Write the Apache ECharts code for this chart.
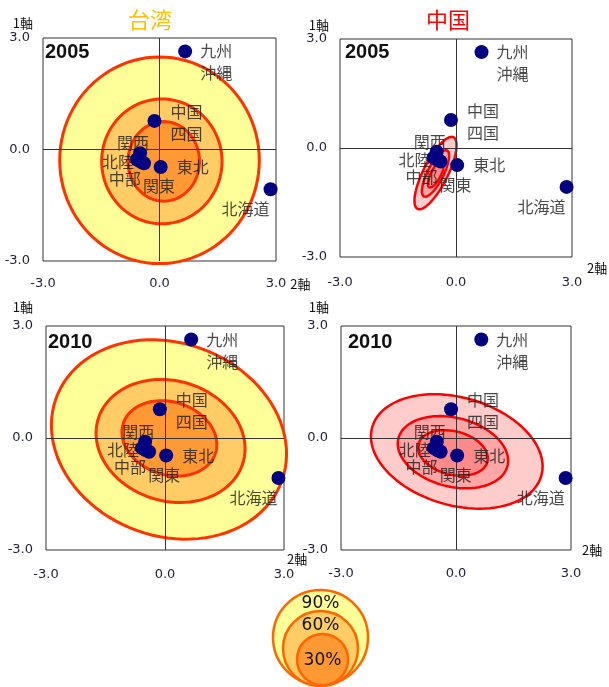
<!DOCTYPE html>
<html>
<head>
<meta charset="utf-8">
<script src="https://cdn.jsdelivr.net/npm/echarts@6/dist/echarts.min.js"></script>
<style>
  html, body { margin: 0; padding: 0; background: #fff; }
  #chart { width: 609px; height: 687px; }
</style>
</head>
<body>
<div id="chart"></div>
<script>
// Regional positions on the two principal axes (2軸 = horizontal, 1軸 = vertical)
const regions = ['北海道', '東北', '関東', '北陸', '中部', '関西', '中国\n四国', '九州\n沖縄'];
const axis2 = [2.86, 0.03, -0.40, -0.58, -0.48, -0.50, -0.13, 0.66];
const axis1 = [-1.07, -0.47, -0.37, -0.27, -0.33, -0.10, 0.77, 2.64];

// Axis ticks shared by every panel
const ticks = [-3, 0, 3];

// Probability contours: [centre 2軸, centre 1軸, semi-axis a, semi-axis b, tilt in degrees]
const levels = ['90%', '60%', '30%'];
const taiwan2005 = [
  [0.00, -0.29, 2.57, 2.78, 0],
  [0.06, -0.32, 1.55, 1.68, 0],
  [0.11, -0.32, 0.92, 1.07, 0]
];
const china2005 = [
  [-0.53, -0.69, 1.09, 0.32, 65],
  [-0.53, -0.70, 0.70, 0.21, 65],
  [-0.52, -0.72, 0.40, 0.13, 65]
];
const taiwan2010 = [
  [0.10, -0.04, 3.06, 2.56, -27],
  [0.14, -0.08, 1.92, 1.60, -22],
  [0.11, -0.01, 1.23, 0.97, -22]
];
const china2010 = [
  [0.02, -0.36, 2.30, 1.44, -17],
  [-0.08, -0.38, 1.47, 0.92, -15],
  [-0.08, -0.40, 0.93, 0.58, -15]
];

// Label placement around each dot (pixel offsets from the dot centre)
const labelOffset = {
  '北海道': [-25, 20],
  '東北': [32, 0],
  '関東': [15, 23],
  '北陸': [-19, 2],
  '中部': [-16, 17],
  '関西': [-7, -10],
  '中国\n四国': [32, 2],
  '九州\n沖縄': [31, 11]
};

const taiwanFills = ['#FFFF99', '#FFCC66', '#FF9933'];
const chinaFills = ['#FFCCCC', '#FFA6A6', '#FF8A8A'];

const panels = [
  { year: '2005', rings: taiwan2005, fills: taiwanFills, stroke: '#FF3300', lw: 3,
    grid: { left: 43, top: 38, width: 233, height: 223 }, xMargin: 16,
    yName: { gap: 8, pad: 10 }, xName: { gap: 9, pad: [17, 0, 0, 0], va: 'top' } },
  { year: '2005', rings: china2005, fills: chinaFills, stroke: '#FF0000', lw: 2.5,
    grid: { left: 340, top: 39, width: 232, height: 218 }, xMargin: 19,
    yName: { gap: 7, pad: 11 }, xName: { gap: 15, pad: [5, 0, 0, 0], va: 'top' } },
  { year: '2010', rings: taiwan2010, fills: taiwanFills, stroke: '#FF3300', lw: 3,
    grid: { left: 46, top: 326, width: 238, height: 224 }, xMargin: 18.5,
    yName: { gap: 12, pad: 13 }, xName: { gap: 3, pad: [3, 0, 0, 0], va: 'top' } },
  { year: '2010', rings: china2010, fills: chinaFills, stroke: '#FF0000', lw: 2.5,
    grid: { left: 341, top: 326, width: 230, height: 224 }, xMargin: 17.5,
    yName: { gap: 12, pad: 12 }, xName: { gap: 11, pad: [12, 0, 0, 0], va: 'middle' } }
];

const tickColor = '#1f1f33';
const tickFont = 'DejaVu Sans';
const cjkFont = 'Noto Sans CJK JP';

const points = regions.map((name, i) => ({ name: name, value: [axis2[i], axis1[i]] }));

function ellipseRenderer(fills, stroke, lw) {
  return function (params, api) {
    const cx = api.value(0), cy = api.value(1);
    const a = api.value(2), b = api.value(3);
    const t = api.value(4) * Math.PI / 180;
    const pts = [];
    for (let k = 0; k < 96; k++) {
      const s = (k / 96) * Math.PI * 2;
      const x = cx + a * Math.cos(t) * Math.cos(s) - b * Math.sin(t) * Math.sin(s);
      const y = cy + a * Math.sin(t) * Math.cos(s) + b * Math.cos(t) * Math.sin(s);
      pts.push(api.coord([x, y]));
    }
    return {
      type: 'polygon',
      shape: { points: pts },
      style: { fill: fills[params.dataIndex], stroke: stroke, lineWidth: lw }
    };
  };
}

const grid = [], xAxis = [], yAxis = [], series = [];
panels.forEach((p, i) => {
  grid.push(Object.assign({ show: true, borderColor: '#333', borderWidth: 1, backgroundColor: 'transparent' }, p.grid));
  xAxis.push({
    gridIndex: i, type: 'value', min: ticks[0], max: ticks[ticks.length - 1], interval: ticks[1] - ticks[0],
    name: '2軸', nameLocation: 'end', nameGap: p.xName.gap,
    nameTextStyle: { color: '#111', fontSize: 13, fontFamily: cjkFont, align: 'left', verticalAlign: p.xName.va, padding: p.xName.pad },
    axisLine: { show: false, onZero: false }, axisTick: { show: false }, splitLine: { show: false },
    axisLabel: { formatter: v => v.toFixed(1), margin: p.xMargin, color: tickColor, fontSize: 13, fontFamily: tickFont }
  });
  yAxis.push({
    gridIndex: i, type: 'value', min: ticks[0], max: ticks[ticks.length - 1], interval: ticks[1] - ticks[0],
    name: '1軸', nameLocation: 'end', nameGap: p.yName.gap,
    nameTextStyle: { color: '#111', fontSize: 13, fontFamily: cjkFont, align: 'right', padding: [0, p.yName.pad, 0, 0] },
    axisLine: { show: false, onZero: false }, axisTick: { show: false }, splitLine: { show: false },
    axisLabel: { formatter: v => v.toFixed(1), margin: 13, color: tickColor, fontSize: 13, fontFamily: tickFont }
  });
  // contour rings, outermost first
  series.push({
    type: 'custom', xAxisIndex: i, yAxisIndex: i, z: 2, silent: true,
    renderItem: ellipseRenderer(p.fills, p.stroke, p.lw),
    data: p.rings
  });
  // zero cross lines
  series.push({
    type: 'line', xAxisIndex: i, yAxisIndex: i, z: 3, data: [], silent: true,
    markLine: {
      silent: true, symbol: 'none', label: { show: false },
      lineStyle: { color: '#333', width: 1, type: 'solid' },
      data: [{ xAxis: 0 }, { yAxis: 0 }]
    }
  });
  // region names (sit beneath the dots)
  series.push({
    type: 'scatter', xAxisIndex: i, yAxisIndex: i, z: 4, silent: true,
    symbolSize: 1, itemStyle: { color: 'rgba(0,0,0,0)' },
    data: points.map(d => ({
      name: d.name, value: d.value,
      label: { offset: labelOffset[d.name] }
    })),
    label: {
      show: true, position: 'inside', formatter: '{b}',
      color: '#1a1a1a', fontSize: 16, fontFamily: cjkFont, lineHeight: 22, align: 'center'
    }
  });
  // region dots
  series.push({
    type: 'scatter', xAxisIndex: i, yAxisIndex: i, z: 5, silent: true,
    symbolSize: 14, itemStyle: { color: '#000080', opacity: 1 },
    data: points.map(d => d.value)
  });
});

const titleBase = { padding: 0, textStyle: { fontFamily: cjkFont, fontSize: 22, fontWeight: 'normal' } };
const yearStyle = { fontFamily: 'Liberation Sans', fontSize: 20, fontWeight: 'bold', color: '#111' };
const title = [
  Object.assign({}, titleBase, { text: '台湾', left: 128, top: 9, textStyle: Object.assign({}, titleBase.textStyle, { color: '#FFC000' }) }),
  Object.assign({}, titleBase, { text: '中国', left: 426, top: 9, textStyle: Object.assign({}, titleBase.textStyle, { color: '#FF0000' }) }),
  { text: panels[0].year, left: 45, top: 42, padding: 0, textStyle: yearStyle },
  { text: panels[1].year, left: 345, top: 42, padding: 0, textStyle: yearStyle },
  { text: panels[2].year, left: 48, top: 332, padding: 0, textStyle: yearStyle },
  { text: panels[3].year, left: 348, top: 332, padding: 0, textStyle: yearStyle }
];

// Nested-circle key for the contour levels
const keyCircles = [
  { cx: 320.5, cy: 637.5, r: 47.5, ty: 604 },
  { cx: 320.5, cy: 648.5, r: 37.5, ty: 626 },
  { cx: 322.5, cy: 659.5, r: 25.5, ty: 661 }
];
const graphic = [];
keyCircles.forEach((c, k) => {
  graphic.push({
    type: 'circle', shape: { cx: c.cx, cy: c.cy, r: c.r },
    style: { fill: taiwanFills[k], stroke: '#FF6600', lineWidth: 2.5 }, z: 1
  });
});
keyCircles.forEach((c, k) => {
  graphic.push({
    type: 'text', x: c.cx, y: c.ty, z: 2,
    style: { text: levels[k], fill: '#111', fontSize: 17, fontFamily: tickFont, align: 'center', verticalAlign: 'middle' }
  });
});

const chart = echarts.init(document.getElementById('chart'), null, { renderer: 'canvas' });
chart.setOption({
  animation: false,
  backgroundColor: '#fff',
  title: title,
  grid: grid,
  xAxis: xAxis,
  yAxis: yAxis,
  series: series,
  graphic: graphic
});
</script>
</body>
</html>
